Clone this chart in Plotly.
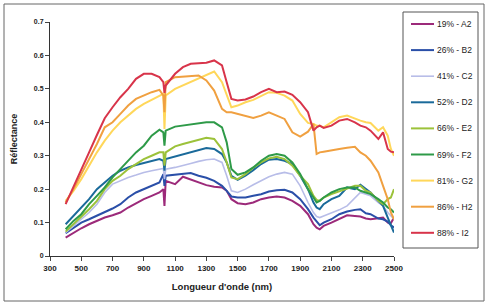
import plotly.graph_objects as go

wavelength = [400, 450, 500, 550, 600, 650, 700, 750, 800, 850, 900, 950, 1000, 1025, 1032, 1040,
              1100, 1150, 1200, 1250, 1300, 1350, 1400, 1430, 1460, 1500, 1550, 1600, 1650, 1700,
              1750, 1800, 1850, 1900, 1950, 1985, 2005, 2025, 2050, 2100, 2150, 2200, 2250, 2285,
              2320, 2350, 2400, 2430, 2460, 2480, 2500]

a2_19 = [.055, .07, .083, .095, .105, .115, .122, .13, .145, .158, .17, .18, .19, .20, .15, .225,
         .215, .237, .228, .22, .212, .207, .205, .195, .17, .158, .155, .16, .17, .175,
         .178, .175, .165, .15, .125, .095, .085, .08, .09, .10, .112, .122, .12, .118,
         .112, .11, .113, .115, .10, .098, .115]
b2_26 = [.068, .085, .10, .11, .12, .13, .142, .155, .175, .19, .20, .21, .22, .245, .21, .24,
         .243, .245, .248, .24, .234, .225, .21, .195, .178, .175, .175, .18, .185, .193,
         .197, .198, .19, .17, .14, .115, .105, .092, .10, .11, .125, .133, .138, .14,
         .128, .125, .112, .11, .103, .092, .085]
c2_41 = [.07, .09, .11, .13, .155, .19, .215, .225, .235, .242, .25, .255, .26, .262, .23, .26,
         .265, .27, .277, .283, .288, .29, .28, .24, .195, .19, .20, .213, .225, .237,
         .245, .25, .245, .21, .16, .13, .118, .115, .12, .128, .138, .15, .175, .19,
         .185, .18, .16, .15, .13, .12, .11]
d2_52 = [.095, .12, .145, .17, .20, .22, .24, .255, .265, .272, .278, .283, .29, .285, .255, .29,
         .298, .305, .31, .318, .323, .32, .305, .28, .24, .228, .24, .257, .275, .288,
         .29, .285, .275, .24, .20, .16, .145, .14, .155, .17, .18, .205, .20, .213,
         .20, .19, .165, .15, .115, .09, .07]
e2_66 = [.073, .095, .115, .14, .165, .20, .225, .24, .26, .275, .29, .30, .31, .31, .27, .31,
         .328, .335, .342, .348, .354, .35, .32, .28, .235, .23, .245, .264, .28, .292,
         .297, .29, .27, .24, .215, .18, .168, .165, .175, .185, .193, .20, .21, .21,
         .195, .19, .165, .155, .17, .175, .20]
f2_69 = [.08, .105, .125, .155, .18, .205, .235, .26, .285, .31, .33, .36, .378, .37, .33, .375,
         .387, .39, .395, .398, .40, .40, .385, .34, .26, .243, .25, .265, .285, .30,
         .305, .30, .28, .245, .20, .175, .16, .165, .175, .19, .20, .205, .205, .195,
         .19, .185, .17, .16, .145, .14, .13]
g2_81 = [.165, .195, .23, .27, .31, .345, .375, .40, .42, .44, .455, .468, .48, .485, .38, .48,
         .50, .51, .52, .53, .54, .552, .52, .48, .445, .45, .46, .467, .478, .49,
         .488, .48, .465, .425, .398, .395, .39, .39, .385, .40, .415, .42, .41, .405,
         .40, .398, .375, .385, .36, .32, .30]
h2_86 = [.16, .20, .245, .29, .335, .385, .40, .425, .45, .47, .48, .49, .497, .48, .43, .52,
         .535, .537, .54, .54, .525, .495, .44, .43, .43, .425, .418, .413, .42, .43,
         .42, .41, .37, .357, .372, .395, .305, .31, .312, .315, .32, .324, .327, .31,
         .30, .285, .25, .21, .17, .13, .11]
i2_88 = [.155, .205, .258, .31, .362, .412, .445, .475, .50, .53, .545, .545, .535, .52, .488, .51,
         .545, .565, .575, .577, .578, .585, .57, .52, .47, .465, .468, .477, .49, .50,
         .49, .492, .482, .46, .43, .375, .385, .39, .383, .39, .405, .41, .40, .39,
         .385, .375, .35, .37, .32, .312, .31]

series_names = ["19% - A2", "26% - B2", "41% - C2", "52% - D2", "66% - E2",
                "69% - F2", "81% - G2", "86% - H2", "88% - I2"]
series_values = [a2_19, b2_26, c2_41, d2_52, e2_66, f2_69, g2_81, h2_86, i2_88]
series_colors = ["#9c2a7a", "#2a4fa8", "#b8bde8", "#1a6a9a", "#9cc23a",
                 "#2e9a48", "#ffd75a", "#f0a040", "#d8344a"]

x_ticks = [300, 500, 700, 900, 1100, 1300, 1500, 1700, 1900, 2100, 2300, 2500]
y_ticks = [0, 0.1, 0.2, 0.3, 0.4, 0.5, 0.6, 0.7]

W, H = 489, 306
ML, MR, MT, MB = 50, 95, 22, 50
PW, PH = W - ML - MR, H - MT - MB

def px_x(p):
    return (p - ML) / PW

def px_y(p):
    return (H - MB - p) / PH

font = "Liberation Sans, Arial, sans-serif"

fig = go.Figure()
for i, (name, vals, col) in enumerate(zip(series_names, series_values, series_colors)):
    fig.add_trace(go.Scatter(x=wavelength, y=vals, mode="lines", name=name,
                             line=dict(color=col, width=2 if i != 2 else 1.6)))

shapes = [
    dict(type="rect", xref="paper", yref="paper",
         x0=px_x(4), x1=px_x(484), y0=px_y(301), y1=px_y(4),
         line=dict(color="#666", width=1), layer="below"),
    dict(type="rect", xref="paper", yref="paper",
         x0=px_x(403), x1=px_x(478), y0=px_y(248), y1=px_y(12),
         line=dict(color="#555", width=1), fillcolor="white", layer="below"),
]
annotations = []
for i, (name, col) in enumerate(zip(series_names, series_colors)):
    yy = 24 + 26.1 * i
    shapes.append(dict(type="line", xref="paper", yref="paper",
                       x0=px_x(411), x1=px_x(434), y0=px_y(yy), y1=px_y(yy),
                       line=dict(color=col, width=2 if i != 2 else 1.6)))
    annotations.append(dict(xref="paper", yref="paper", x=px_x(435), y=px_y(yy),
                            xanchor="left", yanchor="middle", showarrow=False,
                            text=name, font=dict(size=8.5, family=font, color="#222")))

fig.update_layout(
    width=W, height=H,
    margin=dict(l=ML, r=MR, t=MT, b=MB),
    paper_bgcolor="white", plot_bgcolor="white",
    font=dict(family=font, color="#222"),
    showlegend=False,
    xaxis=dict(range=[300, 2500], tickvals=x_ticks, ticks="outside", ticklen=4,
               showline=True, linecolor="#333", linewidth=1, showgrid=False, zeroline=False,
               tickfont=dict(size=8, family=font, color="#222", weight="bold"),
               title=dict(text="Longueur d'onde (nm)", standoff=11,
                          font=dict(size=9.5, family=font, color="#222", weight="bold"))),
    yaxis=dict(range=[0, 0.7], tickvals=y_ticks, ticks="outside", ticklen=4,
               showline=True, linecolor="#333", linewidth=1, showgrid=False, zeroline=False,
               tickfont=dict(size=7, family=font, color="#222", weight="bold"),
               title=dict(text="Réflectance", standoff=14,
                          font=dict(size=9, family=font, color="#222", weight="bold"))),
    shapes=shapes,
    annotations=annotations,
)

fig.write_html("out.html")
